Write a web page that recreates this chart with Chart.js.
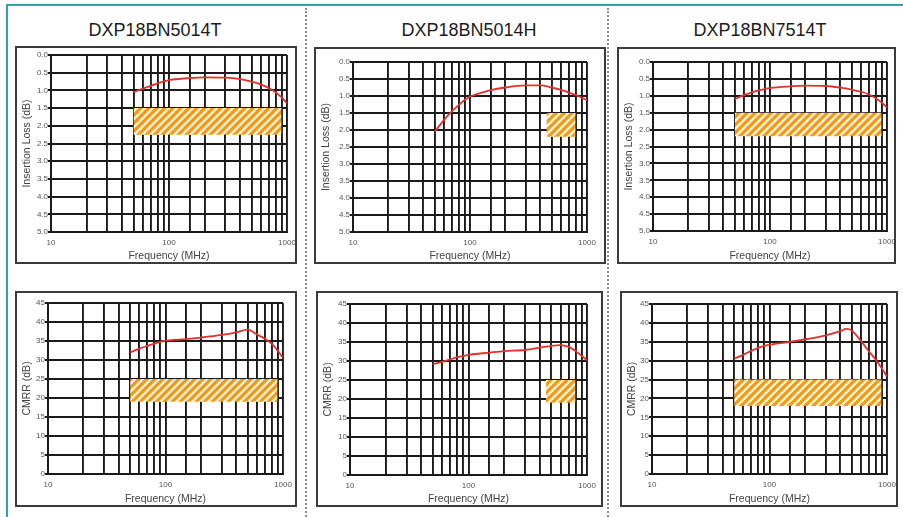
<!DOCTYPE html>
<html>
<head>
<meta charset="utf-8">
<script src="https://cdn.jsdelivr.net/npm/chart.js@4"></script>
<style>
  body { margin: 0; background: #fff; font-family: "Liberation Sans", Arial, sans-serif; }
  #page { position: relative; width: 903px; height: 517px; overflow: hidden; background: #fff; }
  .frameTop { position: absolute; left: 6px; top: 4px; width: 897px; height: 2px; background: #2fa3a7; }
  .frameLeft { position: absolute; left: 6px; top: 4px; width: 2px; height: 513px; background: #2fa3a7; }
  .divider { position: absolute; top: 8px; height: 509px; width: 0; border-left: 2px dotted #8c8c8c; }
  .title { position: absolute; top: 20px; width: 300px; text-align: center; font-size: 18px; line-height: 20px; color: #1c1c1c; }
  .box { position: absolute; border: 2px solid #3b3b3b; box-sizing: border-box; }
  .box canvas { position: absolute; left: 0; top: 0; }
</style>
</head>
<body>
<div id="page">
  <div class="frameTop"></div>
  <div class="frameLeft"></div>
  <div class="divider" style="left:305px"></div>
  <div class="divider" style="left:607px"></div>
</div>
<script>
// part numbers (column titles)
const partNames = ['DXP18BN5014T', 'DXP18BN5014H', 'DXP18BN7514T'];

// frequency points (MHz)
const freqMHz = [50, 60, 70, 80, 90, 100, 150, 200, 300, 400, 500, 600, 700, 800, 900, 1000];
const freqMHz7514 = [50, 60, 70, 80, 90, 100, 150, 200, 300, 400, 450, 500, 600, 700, 800, 900, 1000];

// insertion loss (dB)
const il5014T = [1.05, 0.95, 0.87, 0.8, 0.75, 0.71, 0.65, 0.63, 0.64, 0.68, 0.75, 0.83, 0.93, 1.05, 1.2, 1.37];
const il5014H = [2.05, 1.7, 1.45, 1.27, 1.12, 1.02, 0.83, 0.75, 0.69, 0.69, 0.75, 0.82, 0.9, 0.97, 1.05, 1.12];
const il7514T = [1.1, 0.98, 0.9, 0.84, 0.8, 0.77, 0.72, 0.7, 0.71, 0.76, 0.82, 0.88, 0.96, 1.07, 1.2, 1.35];

// CMRR (dB)
const cmrr5014T = [32, 33, 33.7, 34.3, 34.8, 35.1, 35.5, 35.9, 36.6, 37.3, 38, 36.7, 35.6, 34.3, 32.5, 30.5];
const cmrr5014H = [29.2, 29.8, 30.4, 31, 31.3, 31.6, 32.2, 32.6, 32.9, 33.5, 34, 34.2, 33.7, 32.6, 31.4, 30.2];
const cmrr7514T = [30.5, 31.6, 32.6, 33.4, 33.9, 34.2, 35, 35.6, 36.7, 37.8, 38.4, 38, 35.2, 32.5, 30.3, 28, 25.8];

// spec bands (hatched): [from, to] in MHz and [top, bottom] in dB
const specFreqWide = [50, 900];
const specFreqNarrow = [450, 800];
const specIL5014T = [1.5, 2.25];
const specIL5014H = [1.5, 2.2];
const specIL7514T = [1.5, 2.2];
const specCmrr5014T = [25, 19];
const specCmrr5014H = [25, 19];
const specCmrr7514T = [25, 18];

// tick labels
const ilTicks = [0, 0.5, 1, 1.5, 2, 2.5, 3, 3.5, 4, 4.5, 5];
const cmrrTicks = [0, 5, 10, 15, 20, 25, 30, 35, 40, 45];
const freqTickLabels = [10, 100, 1000];

const FONT = '"Liberation Sans", Arial, sans-serif';
const GRID = '#1a1a1a';

function hatchPattern() {
  const s = 8;
  const c = document.createElement('canvas');
  c.width = s; c.height = s;
  const g = c.getContext('2d');
  g.fillStyle = '#fff4d2';
  g.fillRect(0, 0, s, s);
  g.strokeStyle = '#f29a1c';
  g.lineWidth = 3.2;
  g.beginPath();
  g.moveTo(-1, s + 1); g.lineTo(s + 1, -1);
  g.moveTo(-1, 1); g.lineTo(1, -1);
  g.moveTo(s - 1, s + 1); g.lineTo(s + 1, s - 1);
  g.stroke();
  return g.createPattern(c, 'repeat');
}

const page = document.getElementById('page');

// titles
[155, 469, 760].forEach((cx, i) => {
  const t = document.createElement('div');
  t.className = 'title';
  t.style.left = (cx - 150) + 'px';
  t.textContent = partNames[i];
  page.appendChild(t);
});

function makeChart(box, plot, freqs, values, specF, specV, kind) {
  const div = document.createElement('div');
  div.className = 'box';
  div.style.left = box[0] + 'px';
  div.style.top = box[1] + 'px';
  div.style.width = box[2] + 'px';
  div.style.height = box[3] + 'px';
  const canvas = document.createElement('canvas');
  const cw = box[2] - 4, ch = box[3] - 4;
  canvas.width = cw; canvas.height = ch;
  canvas.style.width = cw + 'px'; canvas.style.height = ch + 'px';
  div.appendChild(canvas);
  page.appendChild(div);

  const x0 = box[0] + 2, y0 = box[1] + 2;
  const yW = plot[0] - x0;
  const padTop = plot[1] - y0;
  const padRight = x0 + cw - plot[2];
  const xH = y0 + ch - plot[3];

  const isIL = kind === 'il';
  const tickVals = isIL ? ilTicks : cmrrTicks;

  new Chart(canvas, {
    type: 'line',
    data: {
      datasets: [
        {
          data: [{ x: specF[0], y: specV[0] }, { x: specF[1], y: specV[0] }],
          borderWidth: 0, pointRadius: 0, fill: false
        },
        {
          data: [{ x: specF[0], y: specV[1] }, { x: specF[1], y: specV[1] }],
          borderWidth: 0, pointRadius: 0, fill: '-1',
          backgroundColor: hatchPattern()
        },
        {
          data: freqs.map((f, i) => ({ x: f, y: values[i] })),
          borderColor: '#e5312b', borderWidth: 1.8, pointRadius: 0,
          fill: false, cubicInterpolationMode: 'monotone'
        }
      ]
    },
    options: {
      responsive: false,
      animation: false,
      devicePixelRatio: 1,
      layout: { padding: { left: 0, top: padTop, right: padRight, bottom: 0 } },
      plugins: { legend: { display: false }, tooltip: { enabled: false } },
      scales: {
        x: {
          type: 'logarithmic', min: 10, max: 1000,
          afterFit: s => { s.height = xH; s.paddingLeft = 0; s.paddingRight = 0; },
          grid: { color: GRID, lineWidth: 1.9, tickLength: 0 },
          border: { color: GRID, width: 1.9 },
          ticks: {
            autoSkip: false, maxRotation: 0, padding: 6, color: '#555',
            font: { size: 8, family: FONT },
            callback: v => freqTickLabels.includes(v) ? String(v) : ''
          },
          title: {
            display: true, text: 'Frequency (MHz)', color: '#444',
            font: { size: 10.5, family: FONT, lineHeight: 1.2 },
            padding: { top: 0, bottom: 0 }
          }
        },
        y: {
          min: tickVals[0], max: tickVals[tickVals.length - 1], reverse: isIL,
          afterFit: s => { s.width = yW; },
          afterBuildTicks: s => { s.ticks = tickVals.map(v => ({ value: v })); },
          grid: { color: GRID, lineWidth: 1.9, tickLength: 3 },
          border: { color: GRID, width: 1.9 },
          ticks: {
            padding: 0, color: '#555',
            font: { size: 8, family: FONT },
            callback: v => isIL ? Number(v).toFixed(1) : String(v)
          },
          title: {
            display: true, text: isIL ? 'Insertion Loss (dB)' : 'CMRR (dB)', color: '#444',
            font: { size: 10.5, family: FONT, lineHeight: 1.2 },
            padding: { top: 3.5, bottom: 0 }
          }
        }
      }
    }
  });
}

// box: [left, top, width, height]; plot: [left, top, right, bottom]
makeChart([15, 46, 282, 218], [51, 55, 287, 232], freqMHz, il5014T, specFreqWide, specIL5014T, 'il');
makeChart([314, 47, 292, 217], [353, 62, 587, 232], freqMHz, il5014H, specFreqNarrow, specIL5014H, 'il');
makeChart([617, 47, 279, 217], [653, 62, 887, 231], freqMHz, il7514T, specFreqWide, specIL7514T, 'il');
makeChart([15, 291, 282, 216], [48, 303, 283, 474], freqMHz, cmrr5014T, specFreqWide, specCmrr5014T, 'cmrr');
makeChart([316, 291, 287, 216], [350, 304, 587, 475], freqMHz, cmrr5014H, specFreqNarrow, specCmrr5014H, 'cmrr');
makeChart([620, 291, 278, 216], [652, 304, 887, 474], freqMHz7514, cmrr7514T, specFreqWide, specCmrr7514T, 'cmrr');
</script>
</body>
</html>
